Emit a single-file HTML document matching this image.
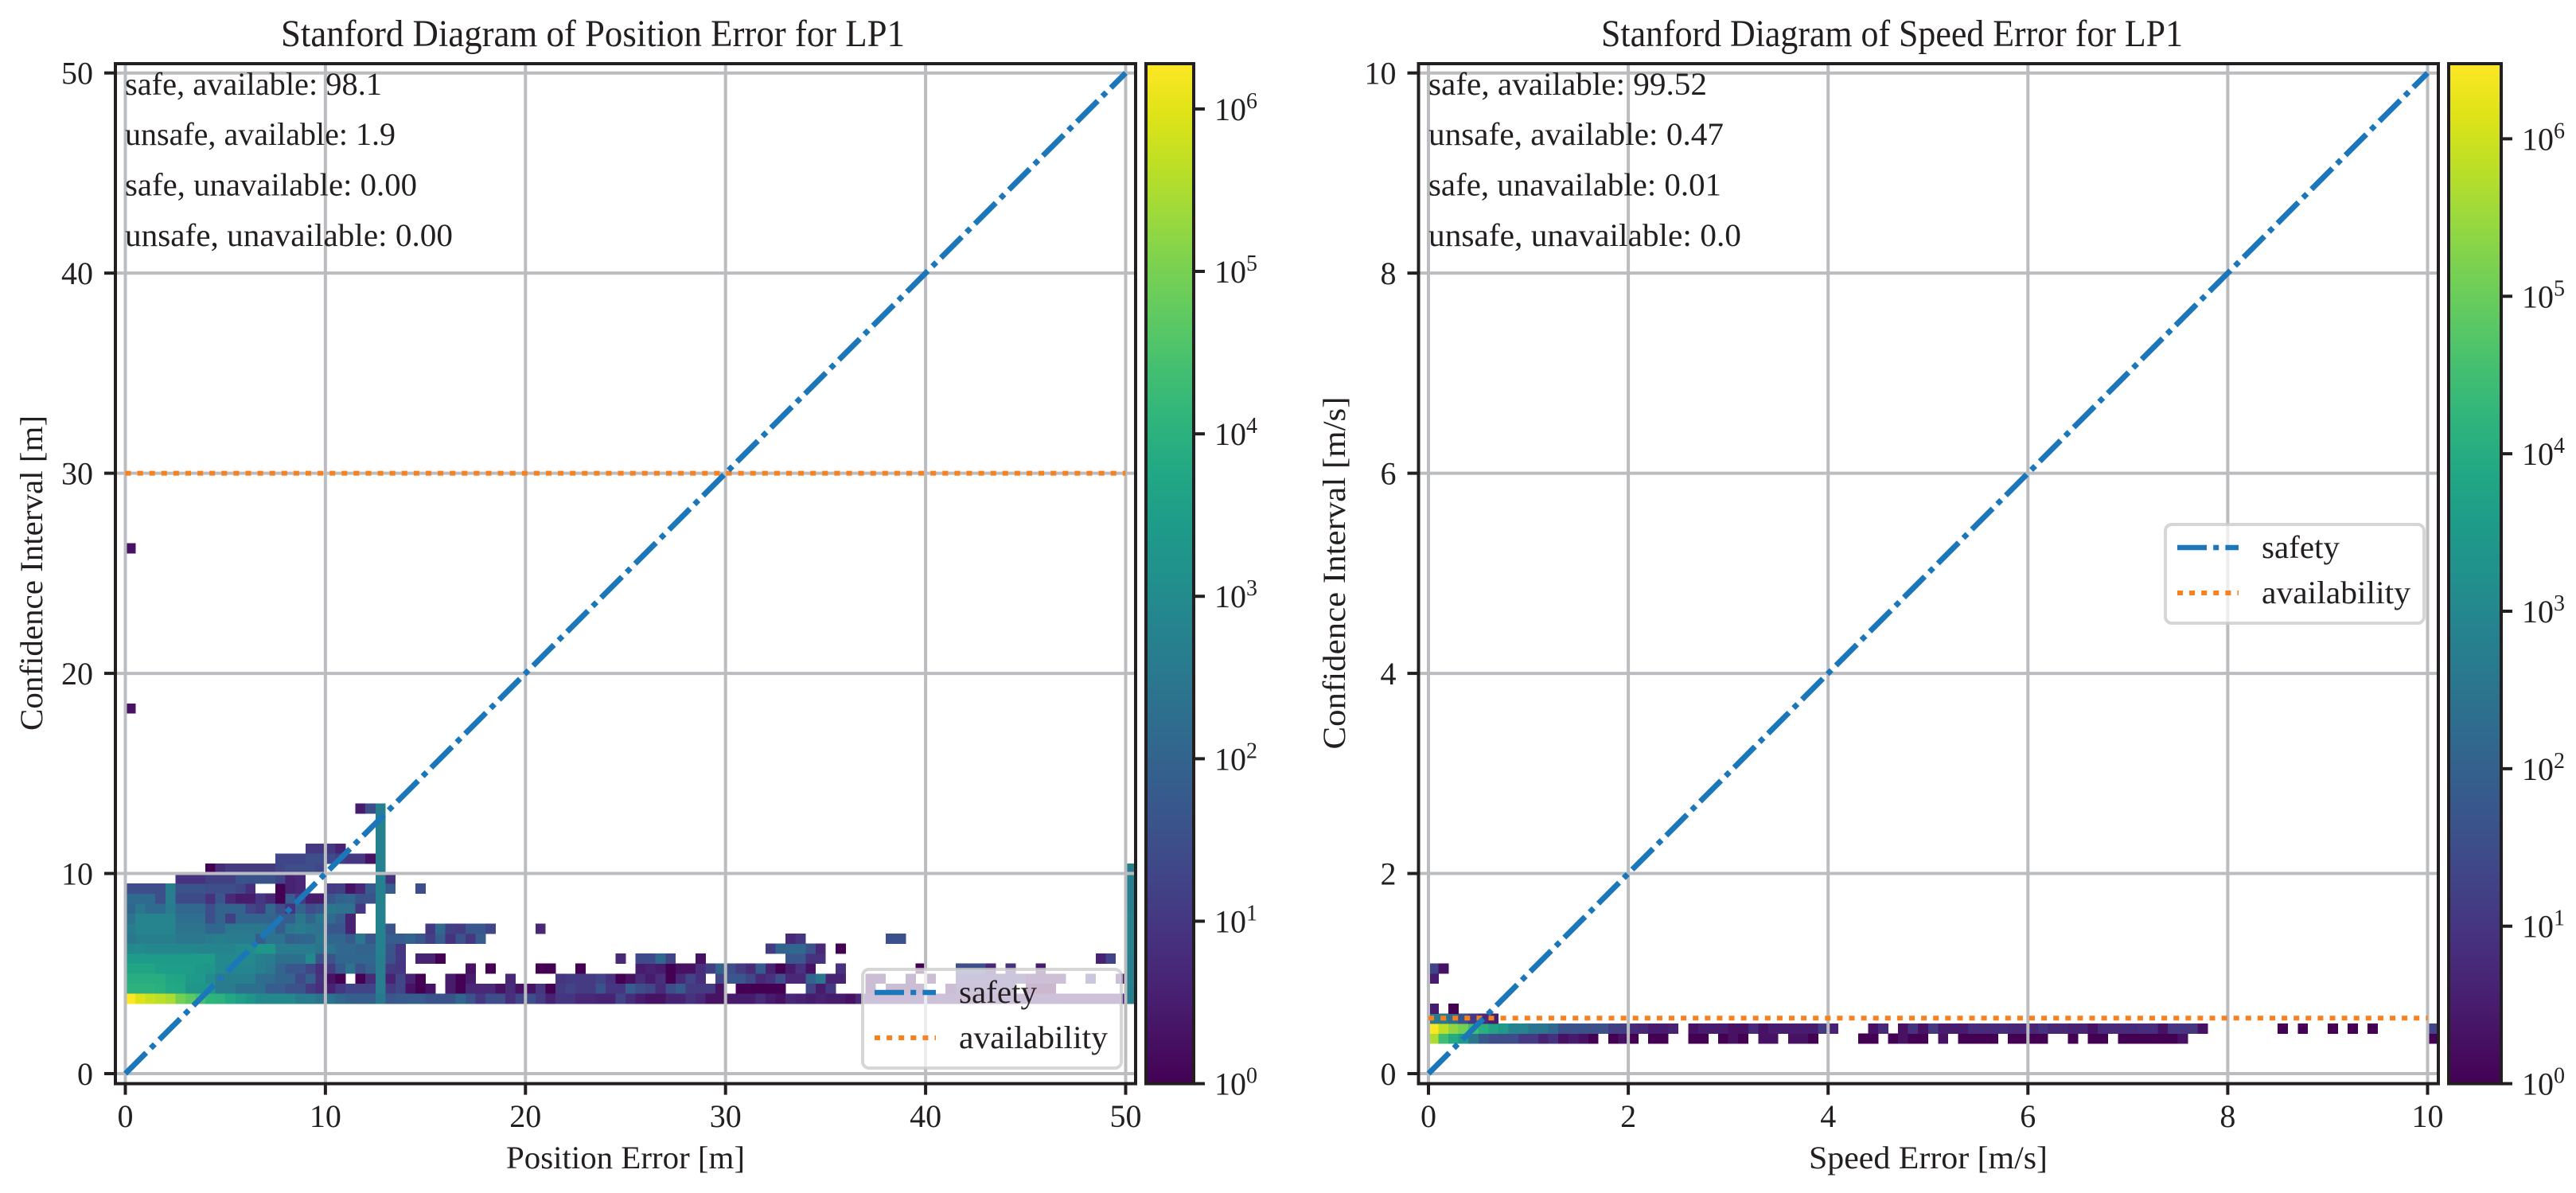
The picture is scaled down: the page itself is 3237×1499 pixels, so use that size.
<!DOCTYPE html>
<html lang="en">
<head>
<meta charset="utf-8">
<title>Stanford Diagrams for LP1</title>
<style>
  html, body { margin: 0; padding: 0; background: #fff; }
  svg { display: block; }
  text { font-family: "Liberation Serif", serif; fill: #231f20; }
</style>
</head>
<body>
<svg id="figure" xmlns="http://www.w3.org/2000/svg" width="3237" height="1499" viewBox="0 0 3237 1499">
  <defs>
    <clipPath id="pos-clip"><rect x="145" y="80" width="1282" height="1281.6"/></clipPath>
    <clipPath id="speed-clip"><rect x="1782.5" y="80" width="1281.5" height="1281.6"/></clipPath>
    <linearGradient id="viridis-gradient" x1="0" y1="1" x2="0" y2="0"></linearGradient>
  </defs>
  <rect x="0" y="0" width="3237" height="1499" fill="#ffffff"/>

  <g>
    <g id="pos-heatmap" clip-path="url(#pos-clip)"></g>
    <g id="pos-grid" clip-path="url(#pos-clip)"></g>
    <g id="pos-lines" clip-path="url(#pos-clip)"></g>
    <g font-size="40">
      <text x="157" y="119" textLength="323" lengthAdjust="spacingAndGlyphs">safe, available: 98.1</text>
      <text x="157" y="182" textLength="340" lengthAdjust="spacingAndGlyphs">unsafe, available: 1.9</text>
      <text x="157" y="245.5" textLength="367" lengthAdjust="spacingAndGlyphs">safe, unavailable: 0.00</text>
      <text x="157" y="309" textLength="412" lengthAdjust="spacingAndGlyphs">unsafe, unavailable: 0.00</text>
    </g>
    <g>
      <rect x="1084" y="1218" width="325" height="124" rx="8" ry="8" fill="#ffffff" fill-opacity="0.72" stroke="#cccccc" stroke-opacity="0.8" stroke-width="4"/>
      <line x1="1099" y1="1247" x2="1176" y2="1247" stroke="#1b77b9" stroke-width="6.5" stroke-dasharray="37 8.2 7 8.2"/>
      <text x="1205" y="1260" font-size="40" textLength="98" lengthAdjust="spacingAndGlyphs">safety</text>
      <line x1="1099" y1="1304" x2="1176" y2="1304" stroke="#f68121" stroke-width="6" stroke-dasharray="7 8.1"/>
      <text x="1205" y="1317" font-size="40" textLength="187" lengthAdjust="spacingAndGlyphs">availability</text>
    </g>
    <g id="pos-axes"></g>
    <text x="353" y="58" font-size="48" textLength="784" lengthAdjust="spacingAndGlyphs">Stanford Diagram of Position Error for LP1</text>
    <text x="786" y="1468" font-size="40" text-anchor="middle" textLength="300" lengthAdjust="spacingAndGlyphs">Position Error [m]</text>
    <text x="0" y="0" transform="translate(53 720) rotate(-90)" font-size="40" text-anchor="middle" textLength="396" lengthAdjust="spacingAndGlyphs">Confidence Interval [m]</text>
    <g id="pos-colorbar"></g>
  </g>

  <g>
    <g id="speed-heatmap" clip-path="url(#speed-clip)"></g>
    <g id="speed-grid" clip-path="url(#speed-clip)"></g>
    <g id="speed-lines" clip-path="url(#speed-clip)"></g>
    <g font-size="40">
      <text x="1795" y="119" textLength="350" lengthAdjust="spacingAndGlyphs">safe, available: 99.52</text>
      <text x="1795" y="182" textLength="371" lengthAdjust="spacingAndGlyphs">unsafe, available: 0.47</text>
      <text x="1795" y="245.5" textLength="368" lengthAdjust="spacingAndGlyphs">safe, unavailable: 0.01</text>
      <text x="1795" y="309" textLength="393" lengthAdjust="spacingAndGlyphs">unsafe, unavailable: 0.0</text>
    </g>
    <g>
      <rect x="2721" y="659" width="325" height="124" rx="8" ry="8" fill="#ffffff" fill-opacity="0.72" stroke="#cccccc" stroke-opacity="0.8" stroke-width="4"/>
      <line x1="2736" y1="688" x2="2813" y2="688" stroke="#1b77b9" stroke-width="6.5" stroke-dasharray="37 8.2 7 8.2"/>
      <text x="2842" y="701" font-size="40" textLength="98" lengthAdjust="spacingAndGlyphs">safety</text>
      <line x1="2736" y1="745" x2="2813" y2="745" stroke="#f68121" stroke-width="6" stroke-dasharray="7 8.1"/>
      <text x="2842" y="758" font-size="40" textLength="187" lengthAdjust="spacingAndGlyphs">availability</text>
    </g>
    <g id="speed-axes"></g>
    <text x="2012" y="58" font-size="48" textLength="731" lengthAdjust="spacingAndGlyphs">Stanford Diagram of Speed Error for LP1</text>
    <text x="2423" y="1468" font-size="40" text-anchor="middle" textLength="300" lengthAdjust="spacingAndGlyphs">Speed Error [m/s]</text>
    <text x="0" y="0" transform="translate(1690 720) rotate(-90)" font-size="40" text-anchor="middle" textLength="443" lengthAdjust="spacingAndGlyphs">Confidence Interval [m/s]</text>
    <g id="speed-colorbar"></g>
  </g>
</svg>

<script>
// ---------- data ----------
const posXTicks = [0, 10, 20, 30, 40, 50];
const posYTicks = [0, 10, 20, 30, 40, 50];
const speedXTicks = [0, 2, 4, 6, 8, 10];
const speedYTicks = [0, 2, 4, 6, 8, 10];
const colorbarExponents = [0, 1, 2, 3, 4, 5, 6];

const posSafetyX = [0, 50];
const posSafetyY = [0, 50];
const posAvailabilityX = [0, 50];
const posAvailabilityY = [30, 30];
const speedSafetyX = [0, 10];
const speedSafetyY = [0, 10];
const speedAvailabilityX = [0, 10];
const speedAvailabilityY = [0.555, 0.555];

const posBinWidth = 0.5;
const speedBinWidth = 0.1;
const posMaxCount = 1900000;
const speedMaxCount = 3000000;

// Row index of each histogram row (row * bin width = lower edge of the bin).
const posHistRows = [7, 8, 9, 10, 11, 12, 13, 14, 15, 16, 17, 18, 19, 20, 21, 22, 23, 24, 25, 26, 36, 52];
// For each row: runs of [first column index, count, count, ...].
const posHistRuns = [
  [[0,1900000,900000,600000,440000,300000,90000,50000,28000,12000,11000,5800,3500,1900,900,900,900,900,400,400,250,250,130,80,80,80,350,50],
   [27,60,70,70,40,40,40,120,40,10,30,30,7,20,30,12,4,9,9,5,5,4,4,18,6,3,2,2,4,4,8,5,2,2,3,3,3,6,3,2],
   [66,5,4,3,4,3,3,2,5,4,4,4,4,4,4,4,4,4,4,4,4,4,4,4,4,4,4,4,4,4,4,4,4,4,4],[100,500]],
  [[0,11000,11000,11000,9000,6000,5500,1900,1900,1900,400,400,200,200,200,70,70,37,37,12,7,4,10,18,18,18,450,12],
   [27,20,2,1,2],[32,3,1,5,5,5,2,6,2,2,9,1,12,18,12,12,40,9,9,70,30,20,6,30,60,12,12,12,2],[61,1,1,1,1,1],
   [68,18,3,10],[74,2],[76,2,2,2,2],[82,2,6,6,6,6,6,6],[90,1,1,1],[100,550]],
  [[0,8000,8000,8000,8000,5000,4500,2500,2500,1000,400,500,500,500,160,160,100,100,25,80,8,2,1],
   [23,1,6,450,4,20,4,1],[32,3,1,3],[38,5],
   [43,9,12,12,12,18,8,1,2,6,3,7,1,5,18,7],[59,20,50,50,20,5,8,30,5,5,100,280,4,4],
   [74,2,2],[78,2],[80,2],[83,8,8,8,8,8,8,8],[90,3,3,3,3],[96,8],[99,3],[100,600]],
  [[0,5000,5000,5000,3000,3000,3000,3000,2000,1900,900,700,700,700,500,300,100,50,50,20,7,12,60,220,37,90,450,12,9],
   [34,2],[36,1],[41,1,1],[45,1],[51,3,4,3,1,2,2,7,15,100,30,12,6,60,4,1,3,8,2],
   [71,8],[79,1],[83,30,30,30,5],[88,8],[91,3],[100,600]],
  [[0,2800,2800,2800,2800,2800,2800,2800,2800,2800,900,900,900,900,500,400,200,200,200,900,37,37,120,120,120,120,500,35,10],
   [29,4,4,1],[49,5],[51,25,25,130,18],[57,2],[66,50,50,8,8],[97,4,18],[100,600]],
  [[0,900,1000,800,800,800,800,800,650,650,650,650,1000,1000,1900,1900,400,400,400,400,250,250,130,130,100,100,550,40,10],
   [64,12,100,120,120,37,5],[71,1],[100,650]],
  [[0,320,500,500,500,500,300,300,300,400,500,400,400,400,70,220,220,80,100,120,300,120,120,60,300,50,550,70,70,100,50,15,70,8,40,10,70],
   [66,5,9],[76,35,35],[100,650]],
  [[0,400,700,700,650,650,250,250,250,120,120,300,300,300,300,220,70,300,400,300,220,50,50,4],
   [25,550,37],[30,10,130,15,12,50,50,20],[41,5],[100,650]],
  [[0,220,650,650,650,650,180,180,180,30,100,15,100,100,100,100,70,70,300,100,300,150,70,4],[25,550],[100,650]],
  [[0,120,320,150,150,400,130,130,130,30,100,100,100,20,12,130,30,8,100,30,50,300,220,220,10],[25,550],[100,600]],
  [[0,150,150,150,30,450,25,25,25,8,50,5,3,3,10,5,1,70,12,3,3,50,100,120,40,40,550],[100,600]],
  [[0,30,30,30,30,450,40,40,40,30,30,30,20,7],[15,1,4,5],[20,12,15,2,5,60,550,70],[29,30],[100,600]],
  [[5,8,8,8,15,15,15,40,40,40,40,20,4,5],[25,550,8],[100,600]],
  [[8,1,6,12,12,12,12,12,20,30,30,30,20],[25,550],[100,500]],
  [[15,20,20,20,30,30,25,15,10,10,2,550]],
  [[18,10,10,10,4],[25,550]],
  [[25,550]],
  [[25,550]],
  [[25,550]],
  [[23,3,30,500]],
  [[0,2]],
  [[0,2]]
];

const speedHistRows = [3, 4, 5, 6, 9, 10];
const speedHistRuns = [
  [[0,500000,30000,9000,3000,320,60,30,30,30,12,12,4,8,2,3,2,1],[18,1,2,1],[22,1,1],[26,1,1],[29,1,2,1],[33,2,2],[36,2,2,1],
   [43,1,1],[46,1,2,1,1],[51,2],[53,1,1,1,1],[58,1,1,1,1],[64,1],[66,1,1],[69,1,1,1,1,1,1,2],[100,1]],
  [[0,3000000,700000,250000,120000,30000,12000,6000,3000,800,800,350,350,150,40,40,40,37,37,15,15,6,5,3,3,4],
   [26,2,3,3,3,2,2,6,2,3,3,3,3,3,12,4],[44,2,6],
   [47,2,8,2,12,3,3,3,6,6,6,6,5,5,5,8,5,5,4,4,2,6,6,6,6,7,7,2,10,10,10,2],
   [85,1],[87,1],[90,1],[92,1],[94,1],[100,20]],
  [[0,450,400,200,40,12,6,3]],
  [[0,3],[2,1]],
  [[0,3]],
  [[0,20,2]]
];

const viridisStops = ['#440154','#471365','#482475','#463480','#414487','#3b528b','#355f8d','#2f6c8e','#2a788e','#25848e','#21918c','#1e9c89','#22a884','#2fb47c','#43bf71','#5ec962','#7ad151','#9bd93c','#bddf26','#dfe318','#fde725'];

// ---------- drawing ----------
const SVG_NS = 'http://www.w3.org/2000/svg';
const INK = '#231f20';
const GRID = '#bbbcbf';

function make(tag, attrs, parent) {
  const el = document.createElementNS(SVG_NS, tag);
  for (const key in attrs) el.setAttribute(key, attrs[key]);
  parent.appendChild(el);
  return el;
}

function hexToRgb(hex) {
  return [1, 3, 5].map(function (i) { return parseInt(hex.substr(i, 2), 16); });
}

function viridis(t) {
  const clamped = Math.max(0, Math.min(1, t));
  const pos = clamped * (viridisStops.length - 1);
  const i = Math.min(Math.floor(pos), viridisStops.length - 2);
  const f = pos - i;
  const a = hexToRgb(viridisStops[i]);
  const b = hexToRgb(viridisStops[i + 1]);
  return 'rgb(' + a.map(function (v, k) { return Math.round(v + (b[k] - v) * f); }).join(',') + ')';
}

const gradient = document.getElementById('viridis-gradient');
viridisStops.forEach(function (color, i) {
  make('stop', { offset: i / (viridisStops.length - 1), 'stop-color': color }, gradient);
});

function drawHeatmap(group, rows, runs, binWidth, maxCount, sx, sy) {
  rows.forEach(function (row, r) {
    runs[r].forEach(function (run) {
      for (let k = 1; k < run.length; k++) {
        const count = run[k];
        if (!(count > 0)) continue;
        const col = run[0] + k - 1;
        const cell = make('rect', {
          x: sx(col * binWidth),
          y: sy((row + 1) * binWidth),
          width: sx((col + 1) * binWidth) - sx(col * binWidth) + 0.3,
          height: sy(row * binWidth) - sy((row + 1) * binWidth) + 0.3,
          fill: viridis(Math.log10(count) / Math.log10(maxCount)),
          'shape-rendering': 'crispEdges'
        }, group);
        
        
      }
    });
  });
}

function drawPanel(cfg) {
  const sx = function (v) { return cfg.x0 + v * cfg.scaleX; };
  const sy = function (v) { return cfg.y0 - v * cfg.scaleY; };

  drawHeatmap(cfg.heat, cfg.rows, cfg.runs, cfg.binWidth, cfg.maxCount, sx, sy);

  cfg.xTicks.forEach(function (v) {
    const line = make('line', { x1: sx(v), x2: sx(v), y1: cfg.top, y2: cfg.bottom, stroke: GRID, 'stroke-width': 4 }, cfg.grid);
    
    
  });
  cfg.yTicks.forEach(function (v) {
    const line = make('line', { x1: cfg.left, x2: cfg.right, y1: sy(v), y2: sy(v), stroke: GRID, 'stroke-width': 4 }, cfg.grid);
    
    
  });

  const avail = make('line', {
    x1: sx(cfg.availX[0]), y1: sy(cfg.availY[0]), x2: sx(cfg.availX[1]), y2: sy(cfg.availY[1]),
    stroke: '#f68121', 'stroke-width': 6, 'stroke-dasharray': '7 8.1'
  }, cfg.lines);
  
  

  const safety = make('line', {
    x1: sx(cfg.safetyX[0]), y1: sy(cfg.safetyY[0]), x2: sx(cfg.safetyX[1]), y2: sy(cfg.safetyY[1]),
    stroke: '#1b77b9', 'stroke-width': 7, 'stroke-dasharray': '37 8.2 7 8.2'
  }, cfg.lines);
  
  

  const frame = make('rect', { x: cfg.left, y: cfg.top, width: cfg.right - cfg.left, height: cfg.bottom - cfg.top, fill: 'none', stroke: INK, 'stroke-width': 4 }, cfg.axes);
  
  

  cfg.xTicks.forEach(function (v) {
    const tick = make('line', { x1: sx(v), x2: sx(v), y1: cfg.bottom, y2: cfg.bottom + 14, stroke: INK, 'stroke-width': 4 }, cfg.axes);
    
    
    const label = make('text', { x: sx(v), y: 1416, 'font-size': 40, 'text-anchor': 'middle' }, cfg.axes);
    label.textContent = String(v);
    
    
  });
  cfg.yTicks.forEach(function (v) {
    const tick = make('line', { x1: cfg.left - 14, x2: cfg.left, y1: sy(v), y2: sy(v), stroke: INK, 'stroke-width': 4 }, cfg.axes);
    
    
    const label = make('text', { x: cfg.left - 28, y: sy(v) + 14, 'font-size': 40, 'text-anchor': 'end' }, cfg.axes);
    label.textContent = String(v);
    
    
  });

  // Colorbar
  const cbLeft = cfg.right + 13;
  const cbWidth = cfg.colorbarWidth;
  const fill = make('rect', { x: cbLeft, y: cfg.top, width: cbWidth, height: cfg.bottom - cfg.top, fill: 'url(#viridis-gradient)' }, cfg.colorbar);
  
  
  const cbFrame = make('rect', { x: cbLeft, y: cfg.top, width: cbWidth, height: cfg.bottom - cfg.top, fill: 'none', stroke: INK, 'stroke-width': 4 }, cfg.colorbar);
  
  
  colorbarExponents.forEach(function (exp) {
    const y = cfg.bottom - exp / Math.log10(cfg.maxCount) * (cfg.bottom - cfg.top);
    const tick = make('line', { x1: cbLeft + cbWidth, x2: cbLeft + cbWidth + 14, y1: y, y2: y, stroke: INK, 'stroke-width': 4 }, cfg.colorbar);
    
    
    const label = make('text', { x: cbLeft + cbWidth + 26, y: y + 14, 'font-size': 40 }, cfg.colorbar);
    
    
    const base = make('tspan', {}, label);
    base.textContent = '10';
    const power = make('tspan', { dy: -15, 'font-size': 28 }, label);
    power.textContent = String(exp);
  });
}

drawPanel({
  heat: document.getElementById('pos-heatmap'),
  grid: document.getElementById('pos-grid'),
  lines: document.getElementById('pos-lines'),
  axes: document.getElementById('pos-axes'),
  colorbar: document.getElementById('pos-colorbar'),
  rows: posHistRows, runs: posHistRuns, binWidth: posBinWidth, maxCount: posMaxCount,
  xTicks: posXTicks, yTicks: posYTicks,
  safetyX: posSafetyX, safetyY: posSafetyY, availX: posAvailabilityX, availY: posAvailabilityY,
  x0: 157.5, y0: 1349, scaleX: 25.14, scaleY: 25.146,
  left: 145, right: 1427, top: 80, bottom: 1361.6, colorbarWidth: 60
});

drawPanel({
  heat: document.getElementById('speed-heatmap'),
  grid: document.getElementById('speed-grid'),
  lines: document.getElementById('speed-lines'),
  axes: document.getElementById('speed-axes'),
  colorbar: document.getElementById('speed-colorbar'),
  rows: speedHistRows, runs: speedHistRuns, binWidth: speedBinWidth, maxCount: speedMaxCount,
  xTicks: speedXTicks, yTicks: speedYTicks,
  safetyX: speedSafetyX, safetyY: speedSafetyY, availX: speedAvailabilityX, availY: speedAvailabilityY,
  x0: 1795, y0: 1349, scaleX: 125.55, scaleY: 125.73,
  left: 1782.5, right: 3064, top: 80, bottom: 1361.6, colorbarWidth: 66
});
</script>
</body>
</html>
